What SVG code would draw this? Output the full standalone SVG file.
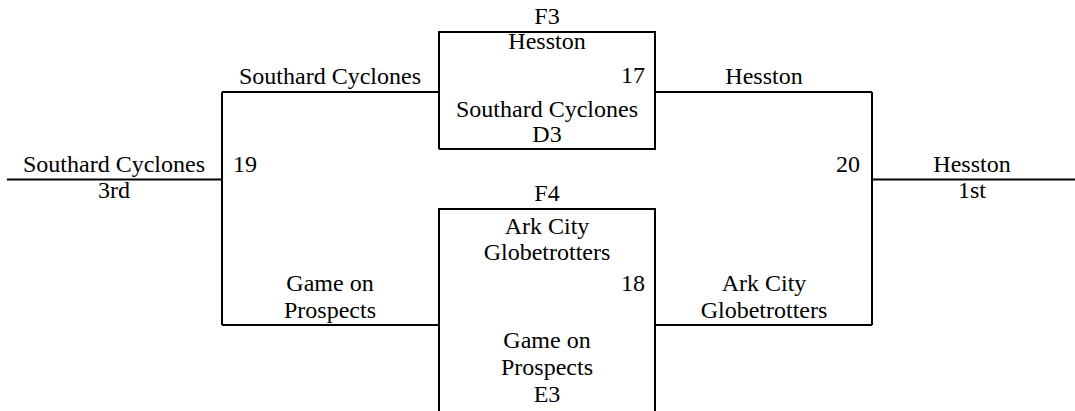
<svg xmlns="http://www.w3.org/2000/svg" width="1075" height="411" viewBox="0 0 1075 411">
<style>
.t{font-size:24px;fill:#000}
.c{text-anchor:middle}
.r{text-anchor:end}
.ln{stroke:#000;stroke-width:2;fill:none}
</style>
<rect width="1075" height="411" fill="#fff"/>
<g id="connectors">
<path class="ln" d="M7 179.5H222M222 92V325M222 92H439M222 325H439"/>
<path class="ln" d="M655 92H872M655 325H872M872 92V325M872 179.5H1075"/>
</g>
<g class="t" font-family="'Liberation Serif', 'Times New Roman', serif">
<g id="third">
<text class="c" x="114" y="172">Southard Cyclones</text>
<text class="c" x="114" y="198">3rd</text>
<text x="233" y="172">19</text>
</g>
<g id="semi-top-label">
<text class="c" x="330" y="84">Southard Cyclones</text>
</g>
<g id="semi-bottom-label">
<text class="c" x="330" y="291">Game on</text>
<text class="c" x="330" y="318">Prospects</text>
</g>
<g id="F3">
<text class="c" x="547" y="24">F3</text>
<path class="ln" d="M439 149V32H655V149H439"/>
<text class="c" x="547" y="49">Hesston</text>
<text class="r" x="645" y="83">17</text>
<text class="c" x="547" y="117">Southard Cyclones</text>
<text class="c" x="547" y="142">D3</text>
</g>
<g id="F4">
<text class="c" x="547" y="201">F4</text>
<path class="ln" d="M439 411V209H655V411"/>
<text class="c" x="547" y="234">Ark City</text>
<text class="c" x="547" y="260">Globetrotters</text>
<text class="r" x="645" y="291">18</text>
<text class="c" x="547" y="348">Game on</text>
<text class="c" x="547" y="375">Prospects</text>
<text class="c" x="547" y="402">E3</text>
</g>
<g id="final-top-label">
<text class="c" x="764" y="84">Hesston</text>
</g>
<g id="final-bottom-label">
<text class="c" x="764" y="291">Ark City</text>
<text class="c" x="764" y="318">Globetrotters</text>
</g>
<g id="champion">
<text class="r" x="860" y="172">20</text>
<text class="c" x="972" y="172">Hesston</text>
<text class="c" x="972" y="198">1st</text>
</g>
</g>
</svg>
